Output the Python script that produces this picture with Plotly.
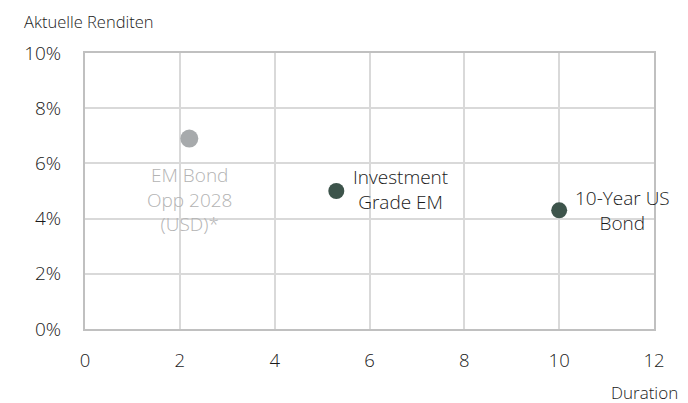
import plotly.graph_objects as go

names = ["EM Bond<br>Opp 2028<br>(USD)*", "Investment<br>Grade EM", "10-Year US<br>Bond"]
duration = [2.2, 5.3, 10.0]
yields = [6.9, 5.0, 4.3]
marker_colors = ["#a7aaac", "#3d544b", "#3d544b"]
marker_sizes = [18, 16, 16]
label_colors = ["#b3b3b3", "#1a1a1a", "#1a1a1a"]

x_ticks = [0, 2, 4, 6, 8, 10, 12]
y_ticks = [0, 2, 4, 6, 8, 10]

FONT = "Open Sans"
W = 300
TXT = "#1a1a1a"

fig = go.Figure()
fig.add_trace(go.Scatter(
    x=duration, y=yields, mode="markers",
    marker=dict(color=marker_colors, size=marker_sizes, opacity=1, line=dict(width=0)),
    hoverinfo="skip", showlegend=False,
))

# label placements (pixel offsets)
placements = [
    dict(xanchor="center", yanchor="top", xshift=0, yshift=-21),
    dict(xanchor="left", yanchor="middle", xshift=15, yshift=2),
    dict(xanchor="left", yanchor="middle", xshift=14, yshift=0),
]
for name, xv, yv, col, pl in zip(names, duration, yields, label_colors, placements):
    fig.add_annotation(x=xv, y=yv, xref="x", yref="y", text=name, showarrow=False,
                       align="center", font=dict(family=FONT, size=19, weight=W, color=col), **pl)

fig.add_annotation(x=0, y=1, xref="paper", yref="paper", text="Aktuelle Renditen",
                   showarrow=False, xanchor="left", yanchor="middle", xshift=-62, yshift=32,
                   borderpad=0,
                   font=dict(family=FONT, size=16.5, weight=W, color=TXT))
fig.add_annotation(x=1, y=0, xref="paper", yref="paper", text="Duration",
                   showarrow=False, xanchor="right", yanchor="middle", xshift=25, yshift=-63,
                   borderpad=0,
                   font=dict(family=FONT, size=17, weight=W, color=TXT))

fig.update_xaxes(range=[0, 12], tickvals=x_ticks, ticktext=[str(t) for t in x_ticks],
                 showgrid=True, gridcolor="#d9d9d9", gridwidth=1.5,
                 showline=True, mirror=True, linecolor="#c0c0c0", linewidth=2,
                 zeroline=False, ticks="", ticklabelstandoff=14,
                 tickfont=dict(family=FONT, size=18.5, weight=W, color=TXT))
fig.update_yaxes(range=[0, 10], tickvals=y_ticks, ticktext=[f"{t}%" for t in y_ticks],
                 showgrid=True, gridcolor="#d9d9d9", gridwidth=1.5,
                 showline=True, mirror=True, linecolor="#c0c0c0", linewidth=2,
                 zeroline=False, ticks="", ticklabelstandoff=18,
                 tickfont=dict(family=FONT, size=19, weight=W, color=TXT))

# page body has an 8px margin, so the figure is drawn 8px smaller and offset
fig.update_layout(width=680, height=395, margin=dict(l=77, r=34, t=45, b=74),
                  plot_bgcolor="white", paper_bgcolor="white",
                  font=dict(family=FONT))

fig.write_html("out.html")
